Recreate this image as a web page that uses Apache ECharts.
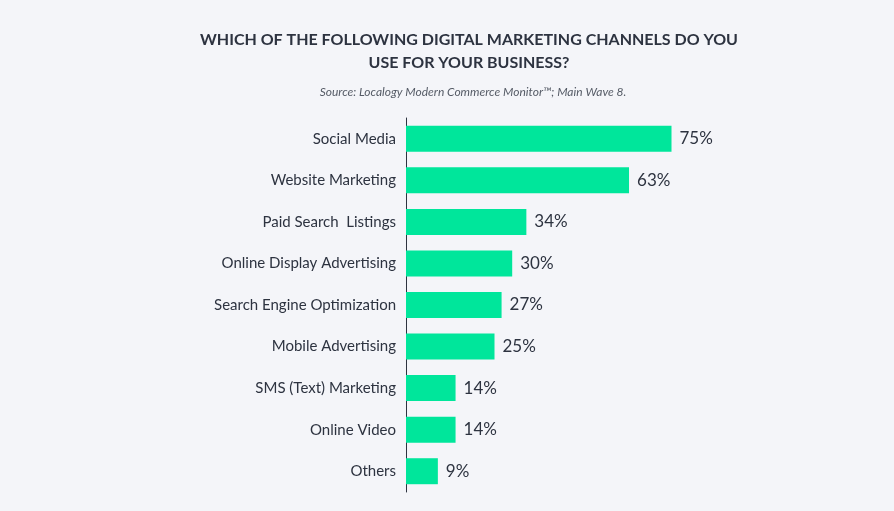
<!DOCTYPE html>
<html lang="en">

<head>
    <meta charset="UTF-8">
    <title>Digital marketing channels</title>
    <style>
        body {
            margin: 0;
            overflow: hidden;
            background-color: #f4f5f9;
        }

        #chart {
            width: 894px;
            height: 511px;
        }
    </style>
</head>

<body>
    <div id="chart"></div>
    <script type="text/javascript" src="https://cdn.jsdelivr.net/npm/echarts@6/dist/echarts.min.js"></script>
    <script type="text/javascript">
        var channels = ['Social Media', 'Website Marketing', 'Paid Search  Listings', 'Online Display Advertising',
            'Search Engine Optimization', 'Mobile Advertising', 'SMS (Text) Marketing', 'Online Video', 'Others'];
        var shares = [75, 63, 34, 30, 27, 25, 14, 14, 9];

        var font = 'Lato, "Source Sans Pro", sans-serif';
        var textColor = '#2d3340';

        var myChart = echarts.init(document.getElementById('chart'));

        var option = {
            backgroundColor: '#f4f5f9',
            title: [{
                text: 'WHICH OF THE FOLLOWING DIGITAL MARKETING CHANNELS DO YOU\nUSE FOR YOUR BUSINESS?',
                left: 464,
                top: 23,
                textAlign: 'center',
                textStyle: {
                    fontFamily: font,
                    fontSize: 16,
                    fontWeight: 'bold',
                    color: textColor,
                    lineHeight: 23
                }
            }, {
                text: 'Source: Localogy Modern Commerce Monitor™; Main Wave 8.',
                left: 468,
                top: 81,
                textAlign: 'center',
                textStyle: {
                    fontFamily: font,
                    fontSize: 12,
                    fontStyle: 'italic',
                    fontWeight: 'normal',
                    color: '#555b66'
                }
            }],
            grid: {
                left: 406,
                top: 118,
                width: 354,
                height: 374
            },
            xAxis: {
                type: 'value',
                min: 0,
                max: 100,
                show: false
            },
            yAxis: {
                type: 'category',
                data: channels,
                inverse: true,
                axisLine: {
                    show: true,
                    lineStyle: { color: textColor, width: 1 }
                },
                axisTick: { show: false },
                axisLabel: {
                    margin: 10,
                    fontFamily: font,
                    fontSize: 15,
                    color: textColor
                }
            },
            series: [{
                type: 'bar',
                data: shares,
                barWidth: 26,
                itemStyle: { color: '#00e69b' },
                label: {
                    show: true,
                    position: 'right',
                    distance: 8,
                    formatter: '{c}%',
                    fontFamily: font,
                    fontSize: 17,
                    color: textColor
                }
            }]
        };

        myChart.setOption(option);
    </script>
</body>

</html>
